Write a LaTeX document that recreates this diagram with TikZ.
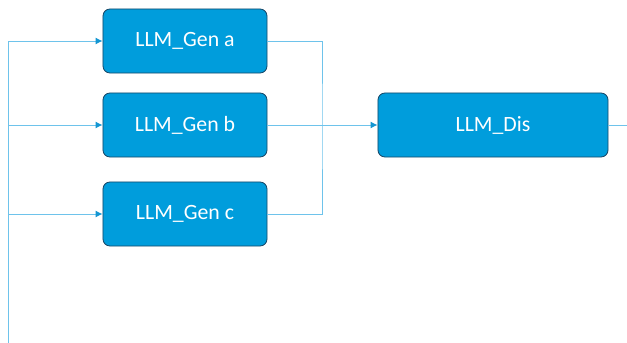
\documentclass[tikz,border=0pt]{standalone}
\usepackage{fontspec}
\setmainfont{Carlito}
\usetikzlibrary{arrows.meta}

\definecolor{boxblue}{RGB}{0,157,220}
\definecolor{boxline}{RGB}{24,72,104}
\definecolor{wireblue}{RGB}{110,195,235}
\definecolor{tipblue}{RGB}{20,150,210}

\begin{document}
\begin{tikzpicture}[x=0.025cm,y=-0.025cm,
		llm/.style={draw=boxline, fill=boxblue, rounded corners=5pt, text=white,
			font=\fontsize{15.5}{18}\selectfont, minimum width=4.1cm, minimum height=1.6cm,
			inner sep=0pt, line width=0.6pt},
		wire/.style={draw=wireblue, line width=0.7pt},
		feed/.style={wire, -{Latex[length=5pt,width=5pt,color=tipblue]}}]
	\useasboundingbox (0,0) rectangle (627,343);

	\node[llm] (gena) at (185,41) {LLM\_Gen a};
	\node[llm] (genb) at (185,125) {LLM\_Gen b};
	\node[llm] (genc) at (185,214) {LLM\_Gen c};
	\node[llm, minimum width=5.75cm] (dis) at (493,125) {LLM\_Dis};

	\coordinate (src) at (8,343);
	\coordinate (join) at (322,125);
	\coordinate (out) at (627,125);

	\draw[feed] (src) |- (gena.west);
	\draw[feed] (genb -| src) -- (genb.west);
	\draw[feed] (genc -| src) -- (genc.west);

	\draw[wire] (gena.east) -| (join) |- (genc.east);
	\draw[feed] (genb.east) -- (dis.west);
	\draw[wire] (dis.east) -- (out);
\end{tikzpicture}
\end{document}
